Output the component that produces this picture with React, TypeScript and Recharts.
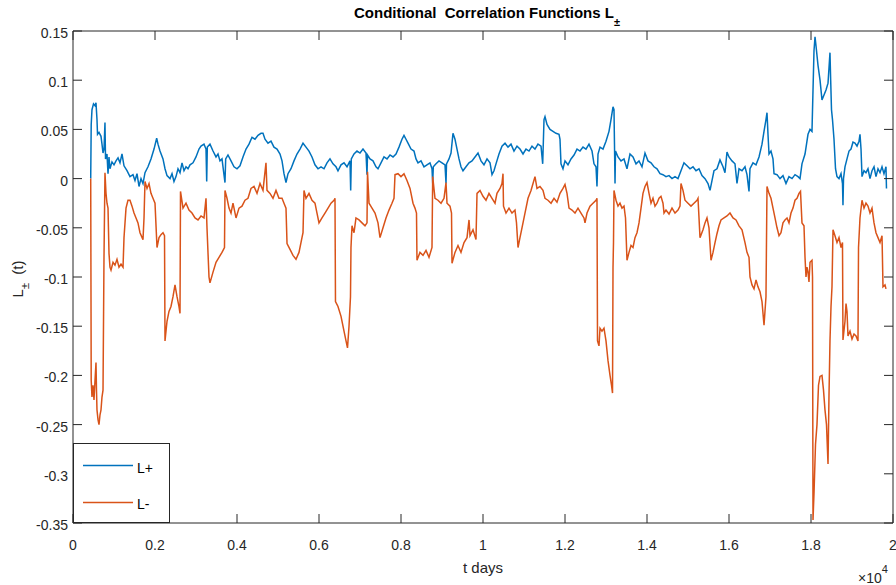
import React from "react";
import { LineChart, Line, XAxis, YAxis } from "recharts";

// x ticks in days (labelled in units of 10^4)
const X_TICKS = [0, 2000, 4000, 6000, 8000, 10000, 12000, 14000, 16000, 18000, 20000];
const Y_TICKS = [0.15, 0.1, 0.05, 0, -0.05, -0.1, -0.15, -0.2, -0.25, -0.3, -0.35];

// [day, value]
const L_PLUS: [number, number][] = [
  [432, 0], [444, 0.055], [463, 0.07], [500, 0.076], [537, 0.074], [561, 0.077], [585, 0.06],
  [598, 0.045], [634, 0.047], [683, 0.043], [707, 0.035], [732, 0.026], [756, 0.03], [780, 0.057],
  [793, 0.02], [829, 0.025], [854, 0.005], [878, 0.022], [902, 0.01], [951, 0.017], [1000, 0.014],
  [1049, 0.018], [1098, 0.021], [1146, 0.016], [1195, 0.025], [1244, 0.013], [1317, 0.008],
  [1390, 0.002], [1463, 0.004], [1512, -0.002], [1561, 0.005], [1610, -0.008], [1659, 0],
  [1707, -0.005], [1756, 0.006], [1829, 0.012], [1902, 0.02], [1976, 0.03], [2041, 0.041],
  [2073, 0.035], [2122, 0.028], [2195, 0.02], [2244, 0.01], [2293, 0.003], [2366, 0], [2415, 0.005],
  [2463, -0.003], [2512, 0.002], [2561, 0.01], [2610, 0.006], [2659, 0.016], [2707, 0.008],
  [2756, 0.012], [2805, 0.01], [2854, 0.014], [2927, 0.016], [3000, 0.022], [3073, 0.03],
  [3122, 0.033], [3195, 0.035], [3244, 0.03], [3261, -0.003], [3276, 0.032], [3341, 0.035],
  [3415, 0.028], [3488, 0.022], [3537, 0.025], [3585, 0.018], [3634, 0.02], [3707, -0.004],
  [3724, 0.02], [3780, 0.024], [3854, 0.018], [3927, 0.012], [4000, 0.01], [4073, 0.013],
  [4146, 0.022], [4220, 0.03], [4293, 0.035], [4366, 0.042], [4439, 0.04], [4512, 0.044],
  [4585, 0.046], [4634, 0.046], [4683, 0.04], [4756, 0.036], [4829, 0.038], [4902, 0.032],
  [4976, 0.03], [5049, 0.025], [5098, 0.018], [5146, 0.005], [5195, -0.004], [5244, 0.005],
  [5317, 0.01], [5390, 0.018], [5463, 0.025], [5537, 0.03], [5610, 0.036], [5683, 0.032],
  [5756, 0.028], [5829, 0.022], [5902, 0.014], [5976, 0.01], [6049, 0.012], [6122, 0.01],
  [6195, 0.016], [6268, 0.02], [6341, 0.015], [6415, 0.012], [6463, 0.008], [6537, 0.014],
  [6610, 0.016], [6683, 0.012], [6756, 0.018], [6773, -0.012], [6788, 0.02], [6854, 0.025],
  [6927, 0.028], [7000, 0.026], [7073, 0.03], [7146, 0.026], [7171, 0.004], [7183, 0.024],
  [7244, 0.02], [7317, 0.018], [7390, 0.012], [7439, 0.01], [7512, 0.016], [7585, 0.022],
  [7659, 0.02], [7732, 0.024], [7805, 0.022], [7878, 0.025], [7951, 0.032], [8024, 0.04],
  [8073, 0.044], [8122, 0.04], [8171, 0.036], [8244, 0.03], [8317, 0.028], [8366, 0.02],
  [8415, 0.016], [8488, 0.018], [8561, 0.012], [8634, 0.014], [8707, 0.016], [8756, 0.01],
  [8773, -0.005], [8788, 0.012], [8854, 0.015], [8927, 0.018], [9000, 0.016], [9073, 0.014],
  [9098, -0.005], [9110, 0.015], [9171, 0.02], [9220, 0.026], [9268, 0.046], [9317, 0.04],
  [9366, 0.03], [9415, 0.02], [9463, 0.012], [9512, 0.008], [9585, 0.012], [9659, 0.016],
  [9732, 0.018], [9805, 0.022], [9878, 0.026], [9951, 0.018], [10024, 0.014], [10098, 0.02],
  [10171, 0.016], [10220, 0.004], [10268, 0.008], [10317, 0.015], [10390, 0.025], [10463, 0.033],
  [10537, 0.036], [10610, 0.032], [10683, 0.035], [10756, 0.028], [10829, 0.033], [10902, 0.03],
  [10976, 0.025], [11049, 0.03], [11122, 0.028], [11195, 0.033], [11268, 0.03], [11341, 0.035],
  [11415, 0.033], [11456, 0.015], [11488, 0.06], [11512, 0.063], [11561, 0.055], [11634, 0.05],
  [11707, 0.048], [11780, 0.046], [11854, 0.045], [11878, 0.04], [11902, 0.015], [11951, 0.01],
  [12000, 0.018], [12073, 0.014], [12146, 0.02], [12220, 0.024], [12293, 0.03], [12366, 0.028],
  [12439, 0.032], [12512, 0.03], [12585, 0.035], [12659, 0.028], [12707, 0.015], [12756, 0.012],
  [12780, -0.008], [12805, 0.025], [12854, 0.032], [12927, 0.03], [13000, 0.038], [13073, 0.048],
  [13122, 0.06], [13171, 0.073], [13195, 0.07], [13207, 0.035], [13220, -0.005], [13232, 0.028],
  [13293, 0.022], [13366, 0.018], [13439, 0.02], [13512, 0.01], [13585, 0.025], [13659, 0.022],
  [13732, 0.015], [13805, 0.018], [13878, 0.012], [13951, 0.026], [14024, 0.018], [14098, 0.016],
  [14171, 0.012], [14244, 0.01], [14317, 0.005], [14390, 0.004], [14463, 0.002], [14537, 0.003],
  [14610, 0], [14683, 0.002], [14756, 0], [14829, 0.008], [14902, 0.016], [14976, 0.013],
  [15049, 0.01], [15122, 0.012], [15195, 0.008], [15268, 0.01], [15341, 0.003], [15415, 0],
  [15488, -0.005], [15537, -0.012], [15585, -0.002], [15634, 0.008], [15707, 0.01], [15780, 0.019],
  [15854, 0.012], [15902, 0.006], [15951, 0.027], [16000, 0.022], [16073, 0.018], [16146, 0.015],
  [16195, -0.005], [16244, 0.01], [16317, 0.008], [16390, 0.012], [16439, 0.004], [16488, -0.013],
  [16512, 0.01], [16585, 0.016], [16659, 0.014], [16732, 0.022], [16805, 0.035], [16854, 0.048],
  [16902, 0.06], [16927, 0.067], [16951, 0.045], [16976, 0.025], [17024, 0.028], [17073, 0.02],
  [17098, 0.005], [17171, 0.004], [17244, 0], [17317, 0.003], [17390, -0.005], [17463, 0.002],
  [17537, 0], [17610, 0.004], [17683, 0.002], [17732, 0], [17780, 0.015], [17854, 0.025],
  [17927, 0.045], [17976, 0.05], [18024, 0.048], [18049, 0.09], [18073, 0.13], [18098, 0.144],
  [18122, 0.135], [18171, 0.115], [18220, 0.1], [18268, 0.08], [18317, 0.085], [18366, 0.09],
  [18415, 0.097], [18463, 0.128], [18480, 0.1], [18500, 0.07], [18524, 0.06], [18561, 0.04],
  [18598, 0.01], [18634, 0.002], [18683, 0], [18732, 0.005], [18768, -0.005], [18780, -0.027],
  [18793, 0], [18829, 0.012], [18878, 0.02], [18927, 0.028], [18976, 0.03], [19024, 0.037],
  [19073, 0.036], [19122, 0.033], [19171, 0.038], [19195, 0.045], [19220, 0.03], [19244, 0.002],
  [19293, 0.008], [19341, 0.006], [19390, 0.01], [19439, 0], [19488, 0.008], [19537, 0.012],
  [19585, 0.002], [19634, 0.01], [19683, 0.006], [19732, 0.012], [19780, 0.005], [19829, 0.012],
  [19841, -0.01],
];

const L_MINUS: [number, number][] = [
  [432, 0], [444, -0.205], [463, -0.222], [488, -0.21], [512, -0.225], [537, -0.205], [561, -0.187],
  [573, -0.215], [585, -0.235], [610, -0.245], [634, -0.25], [659, -0.24], [683, -0.235],
  [707, -0.222], [732, -0.215], [756, -0.08], [780, 0.006], [805, -0.015], [829, -0.025],
  [854, -0.03], [878, -0.076], [902, -0.09], [927, -0.093], [976, -0.085], [1024, -0.088],
  [1073, -0.082], [1122, -0.09], [1171, -0.087], [1220, -0.09], [1244, -0.06], [1293, -0.03],
  [1341, -0.022], [1390, -0.022], [1439, -0.028], [1488, -0.035], [1537, -0.04], [1585, -0.045],
  [1634, -0.055], [1707, -0.062], [1732, -0.04], [1756, -0.003], [1805, -0.01], [1854, -0.005],
  [1902, -0.015], [1951, -0.02], [2000, -0.025], [2049, -0.07], [2098, -0.06], [2146, -0.057],
  [2195, -0.055], [2232, -0.058], [2244, -0.165], [2293, -0.145], [2341, -0.135], [2390, -0.13],
  [2439, -0.12], [2488, -0.108], [2537, -0.12], [2585, -0.13], [2610, -0.137], [2622, -0.013],
  [2683, -0.03], [2756, -0.025], [2829, -0.032], [2902, -0.035], [2976, -0.04], [3049, -0.042],
  [3122, -0.038], [3195, -0.04], [3244, -0.02], [3268, -0.05], [3317, -0.1], [3341, -0.106],
  [3415, -0.095], [3488, -0.085], [3561, -0.08], [3634, -0.075], [3695, -0.07], [3707, -0.012],
  [3756, -0.02], [3805, -0.03], [3854, -0.035], [3902, -0.025], [3976, -0.04], [4049, -0.03],
  [4122, -0.028], [4195, -0.022], [4268, -0.02], [4341, -0.01], [4415, -0.008], [4488, -0.015],
  [4561, -0.005], [4634, -0.012], [4707, 0.016], [4732, -0.012], [4805, -0.015], [4878, -0.02],
  [4951, -0.012], [5024, -0.02], [5098, -0.02], [5146, -0.025], [5195, -0.03], [5220, -0.066],
  [5293, -0.072], [5366, -0.078], [5439, -0.082], [5512, -0.075], [5585, -0.06], [5610, -0.055],
  [5634, -0.012], [5683, -0.02], [5756, -0.015], [5829, -0.022], [5902, -0.025], [5951, -0.035],
  [6000, -0.045], [6073, -0.04], [6146, -0.035], [6220, -0.03], [6293, -0.025], [6366, -0.022],
  [6390, -0.02], [6402, -0.125], [6463, -0.13], [6537, -0.14], [6610, -0.155], [6659, -0.165],
  [6695, -0.172], [6732, -0.15], [6768, -0.12], [6780, -0.07], [6805, -0.048], [6854, -0.055],
  [6902, -0.04], [6976, -0.042], [7049, -0.045], [7122, -0.048], [7171, -0.045], [7183, 0.007],
  [7220, -0.025], [7293, -0.03], [7366, -0.035], [7439, -0.045], [7488, -0.06], [7561, -0.05],
  [7634, -0.04], [7707, -0.032], [7780, -0.025], [7829, -0.02], [7854, 0.004], [7927, 0.005],
  [8000, 0.002], [8073, 0.005], [8146, -0.002], [8220, -0.01], [8293, -0.025], [8341, -0.03],
  [8378, -0.035], [8390, -0.083], [8463, -0.075], [8537, -0.078], [8610, -0.073], [8683, -0.08],
  [8756, -0.07], [8773, 0.002], [8829, -0.02], [8902, -0.022], [8976, -0.025], [9049, -0.02],
  [9098, -0.004], [9122, -0.025], [9195, -0.028], [9232, -0.035], [9244, -0.086], [9317, -0.075],
  [9390, -0.068], [9463, -0.075], [9537, -0.065], [9610, -0.06], [9659, -0.042], [9683, -0.058],
  [9756, -0.052], [9829, -0.062], [9854, -0.015], [9927, -0.012], [10000, -0.018], [10073, -0.022],
  [10146, -0.015], [10220, -0.02], [10293, -0.025], [10341, -0.015], [10415, -0.01], [10463, -0.005],
  [10488, 0.005], [10500, -0.028], [10561, -0.035], [10634, -0.03], [10707, -0.035], [10780, -0.032],
  [10817, -0.045], [10854, -0.07], [10902, -0.06], [10951, -0.05], [11024, -0.035], [11098, -0.02],
  [11171, -0.012], [11220, -0.005], [11268, 0.002], [11317, -0.01], [11390, -0.008], [11463, -0.012],
  [11512, -0.02], [11585, -0.022], [11659, -0.025], [11732, -0.02], [11805, -0.024], [11878, -0.015],
  [11951, -0.01], [12000, -0.006], [12049, -0.015], [12098, -0.03], [12171, -0.032], [12244, -0.035],
  [12317, -0.03], [12390, -0.035], [12463, -0.04], [12488, -0.045], [12537, -0.035], [12610, -0.028],
  [12683, -0.025], [12756, -0.022], [12780, -0.02], [12793, -0.165], [12829, -0.17], [12854, -0.152],
  [12902, -0.155], [12951, -0.152], [13000, -0.165], [13049, -0.185], [13098, -0.2], [13134, -0.21],
  [13159, -0.218], [13171, -0.09], [13183, -0.065], [13195, -0.012], [13244, -0.022], [13293, -0.028],
  [13341, -0.025], [13390, -0.03], [13439, -0.028], [13476, -0.04], [13512, -0.083], [13561, -0.075],
  [13610, -0.068], [13659, -0.07], [13707, -0.06], [13756, -0.055], [13805, -0.045], [13854, -0.03],
  [13902, -0.015], [13951, -0.008], [14000, -0.004], [14049, -0.015], [14098, -0.025], [14146, -0.02],
  [14195, -0.028], [14244, -0.025], [14293, -0.02], [14341, -0.018], [14390, -0.025], [14415, -0.035],
  [14463, -0.032], [14537, -0.036], [14610, -0.03], [14683, -0.035], [14756, -0.032], [14805, -0.028],
  [14829, -0.005], [14878, -0.012], [14927, -0.022], [15000, -0.025], [15073, -0.028], [15146, -0.025],
  [15220, -0.022], [15244, -0.02], [15293, -0.06], [15366, -0.052], [15415, -0.045], [15463, -0.04],
  [15512, -0.05], [15561, -0.083], [15610, -0.075], [15659, -0.065], [15707, -0.056], [15756, -0.048],
  [15805, -0.042], [15878, -0.04], [15951, -0.038], [16024, -0.035], [16098, -0.04], [16171, -0.042],
  [16244, -0.048], [16317, -0.052], [16390, -0.065], [16439, -0.075], [16488, -0.08], [16512, -0.1],
  [16561, -0.108], [16610, -0.112], [16659, -0.103], [16707, -0.11], [16756, -0.115], [16805, -0.125],
  [16854, -0.149], [16902, -0.12], [16927, -0.008], [16976, -0.015], [17024, -0.02], [17073, -0.03],
  [17122, -0.04], [17171, -0.05], [17220, -0.058], [17268, -0.055], [17317, -0.045], [17366, -0.042],
  [17415, -0.04], [17463, -0.045], [17512, -0.035], [17561, -0.03], [17610, -0.022], [17659, -0.02],
  [17707, -0.015], [17744, -0.013], [17780, -0.045], [17829, -0.048], [17854, -0.08], [17878, -0.1],
  [17902, -0.09], [17927, -0.095], [17951, -0.105], [17976, -0.085], [18024, -0.083], [18037, -0.1],
  [18049, -0.347], [18073, -0.32], [18110, -0.27], [18146, -0.25], [18183, -0.21], [18220, -0.201],
  [18268, -0.2], [18305, -0.215], [18341, -0.235], [18378, -0.25], [18415, -0.29], [18439, -0.22],
  [18463, -0.165], [18488, -0.13], [18512, -0.11], [18537, -0.052], [18585, -0.058], [18634, -0.065],
  [18683, -0.06], [18732, -0.07], [18768, -0.065], [18780, -0.164], [18829, -0.145], [18854, -0.127],
  [18878, -0.135], [18902, -0.16], [18951, -0.155], [19000, -0.163], [19049, -0.158], [19098, -0.16],
  [19146, -0.165], [19159, -0.07], [19195, -0.04], [19244, -0.022], [19293, -0.03], [19341, -0.025],
  [19390, -0.028], [19439, -0.035], [19488, -0.03], [19537, -0.045], [19585, -0.055], [19634, -0.06],
  [19683, -0.065], [19732, -0.058], [19756, -0.11], [19805, -0.108], [19829, -0.112],
];

const BLUE = "#0072BD";
const ORANGE = "#D95319";
const AXIS = "#262626";
const FONT = "'Liberation Sans', Arial, Helvetica, sans-serif";

const plusData = L_PLUS.map(([t, v]) => ({ t, v }));
const minusData = L_MINUS.map(([t, v]) => ({ t, v }));

const tickStyle = { fill: AXIS, fontSize: 14, fontFamily: FONT };
const blank = () => "";

export default function App() {
  return (
    <div style={{ position: "absolute", left: 0, top: 0, width: 896, height: 585, background: "#fff" }}>
      <LineChart width={896} height={585} margin={{ top: 30, right: 2, bottom: 22, left: 13 }}>
        <XAxis
          xAxisId="main"
          type="number"
          dataKey="t"
          domain={[0, 20000]}
          ticks={X_TICKS}
          interval={0}
          allowDataOverflow
          height={40}
          stroke={AXIS}
          tickSize={-9}
          tickMargin={26}
          tick={tickStyle}
          tickFormatter={(v: number) => String(v / 10000)}
        />
        <XAxis
          xAxisId="top"
          orientation="top"
          type="number"
          dataKey="t"
          domain={[0, 20000]}
          ticks={X_TICKS}
          interval={0}
          allowDataOverflow
          height={1}
          stroke={AXIS}
          tickSize={-9}
          tick={tickStyle}
          tickFormatter={blank}
        />
        <YAxis
          yAxisId="main"
          type="number"
          domain={[-0.35, 0.15]}
          ticks={Y_TICKS}
          interval={0}
          allowDataOverflow
          width={60}
          stroke={AXIS}
          tickSize={-9}
          tickMargin={14}
          tick={{ ...tickStyle, dy: 2 }}
        />
        <YAxis
          yAxisId="right"
          orientation="right"
          type="number"
          domain={[-0.35, 0.15]}
          ticks={Y_TICKS}
          interval={0}
          allowDataOverflow
          width={1}
          stroke={AXIS}
          tickSize={-9}
          tick={tickStyle}
          tickFormatter={blank}
        />
        <Line
          xAxisId="main"
          yAxisId="main"
          data={plusData}
          dataKey="v"
          name="L+"
          type="linear"
          stroke={BLUE}
          strokeWidth={1.5}
          dot={false}
          isAnimationActive={false}
        />
        <Line
          xAxisId="main"
          yAxisId="main"
          data={minusData}
          dataKey="v"
          name="L-"
          type="linear"
          stroke={ORANGE}
          strokeWidth={1.5}
          dot={false}
          isAnimationActive={false}
        />
        {/* invisible series so the top and right frame axes get drawn */}
        <Line
          xAxisId="top"
          yAxisId="right"
          data={plusData}
          dataKey="v"
          stroke="none"
          strokeOpacity={0}
          dot={false}
          legendType="none"
          isAnimationActive={false}
        />
      </LineChart>
      <svg
        width={896}
        height={585}
        style={{ position: "absolute", left: 0, top: 0, pointerEvents: "none", fontFamily: FONT }}
      >
        <text x={487} y={18} textAnchor="middle" fontWeight="bold" fontSize={15} fill="#000" style={{ whiteSpace: "pre" }}>
          {"Conditional  Correlation Functions L"}
          <tspan fontSize={11} dy={8}>±</tspan>
        </text>
        <text transform="translate(23,279) rotate(-90)" textAnchor="middle" fontSize={15} fill={AXIS} style={{ whiteSpace: "pre" }}>
          L
          <tspan fontSize={11} dy={6}>±</tspan>
          <tspan dy={-6}>{"  (t)"}</tspan>
        </text>
        <text x={483} y={573} textAnchor="middle" fontSize={15} fill={AXIS}>
          t days
        </text>
        <text x={858} y={583} fontSize={14} fill={AXIS}>
          ×10
          <tspan fontSize={11} dy={-10}>4</tspan>
        </text>
        <rect x={73.5} y={443.5} width={96} height={79} fill="#fff" stroke={AXIS} strokeWidth={1} />
        <line x1={83} y1={465.5} x2={133} y2={465.5} stroke={BLUE} strokeWidth={1.5} />
        <text x={137} y={473} fontSize={14} fill="#000">L+</text>
        <line x1={83} y1={502.5} x2={133} y2={502.5} stroke={ORANGE} strokeWidth={1.5} />
        <text x={137} y={509} fontSize={14} fill="#000">L-</text>
      </svg>
    </div>
  );
}
